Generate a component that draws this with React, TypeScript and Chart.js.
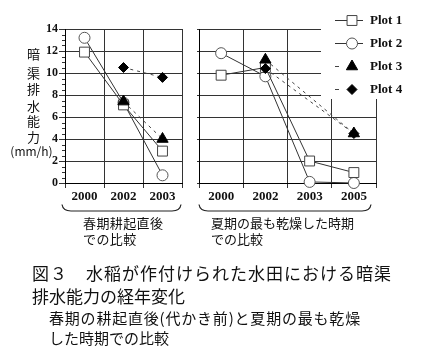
import React, { useEffect, useRef } from 'react';
import { Chart, registerables } from 'chart.js';

Chart.register(...registerables);

// ---- data ----
const springYears = ['2000', '2002', '2003'];
const summerYears = ['2000', '2002', '2003', '2005'];
const seriesNames = ['Plot 1', 'Plot 2', 'Plot 3', 'Plot 4'];

const springPlot1 = [11.9, 7.1, 2.9];
const springPlot2 = [13.2, 7.3, 0.7];
const springPlot3 = [null, 7.4, 4.0];
const springPlot4 = [null, 10.5, 9.6];

const summerPlot1 = [9.8, 10.5, 2.0, 0.95];
const summerPlot2 = [11.8, 9.7, 0.1, 0.0];
const summerPlot3 = [null, 11.2, null, 4.5];
const summerPlot4 = [null, 10.4, null, 4.5];

const yMin = 0;
const yMax = 14;
const yStep = 2;
const yMinorStep = 0.5;

const yTitleChars = ['暗', '渠', '排', '水', '能', '力', '(mm/h)'];
const springLabel = ['春期耕起直後', 'での比較'];
const summerLabel = ['夏期の最も乾燥した時期', 'での比較'];
const captionLines = ['図３　水稲が作付けられた水田における暗渠', '排水能力の経年変化'];
const subCaptionLines = ['春期の耕起直後(代かき前)と夏期の最も乾燥', 'した時期での比較'];

// ---- styles ----
type St = { pointStyle: string; radius: number; fill: string; stroke: string; line: string; dash: number[]; order: number };
const styles: St[] = [
  { pointStyle: 'rect', radius: 7, fill: '#ffffff', stroke: '#444444', line: '#333333', dash: [], order: 1 },
  { pointStyle: 'circle', radius: 5.5, fill: '#ffffff', stroke: '#555555', line: '#333333', dash: [], order: 1 },
  { pointStyle: 'triangle', radius: 6.5, fill: '#000000', stroke: '#000000', line: '#444444', dash: [3, 4], order: 0 },
  { pointStyle: 'rectRot', radius: 5, fill: '#000000', stroke: '#000000', line: '#444444', dash: [3, 4], order: 0 },
];

const serif = '"Liberation Serif", "Times New Roman", serif';
const cjk = '"Noto Sans CJK JP", sans-serif';

function makeDatasets(values: (number | null)[][], span: boolean) {
  return values.map((data, i) => ({
    label: seriesNames[i],
    data,
    borderColor: styles[i].line,
    borderWidth: 1,
    borderDash: styles[i].dash,
    pointStyle: styles[i].pointStyle,
    pointRadius: styles[i].radius,
    pointHoverRadius: styles[i].radius,
    pointBackgroundColor: styles[i].fill,
    pointBorderColor: styles[i].stroke,
    pointBorderWidth: 1,
    fill: false,
    tension: 0,
    spanGaps: span,
    clip: false as const,
    order: styles[i].order,
  }));
}

function drawMarker(ctx: CanvasRenderingContext2D, st: St, x: number, y: number) {
  const r = st.radius;
  ctx.beginPath();
  if (st.pointStyle === 'rect') {
    const s = Math.SQRT1_2 * r;
    ctx.rect(x - s, y - s, 2 * s, 2 * s);
  } else if (st.pointStyle === 'circle') {
    ctx.arc(x, y, r, 0, Math.PI * 2);
  } else if (st.pointStyle === 'triangle') {
    let a = 0;
    ctx.moveTo(x + Math.sin(a) * r, y - Math.cos(a) * r);
    a += (2 * Math.PI) / 3;
    ctx.lineTo(x + Math.sin(a) * r, y - Math.cos(a) * r);
    a += (2 * Math.PI) / 3;
    ctx.lineTo(x + Math.sin(a) * r, y - Math.cos(a) * r);
    ctx.closePath();
  } else {
    ctx.moveTo(x, y - r);
    ctx.lineTo(x + r, y);
    ctx.lineTo(x, y + r);
    ctx.lineTo(x - r, y);
    ctx.closePath();
  }
  ctx.fillStyle = st.fill;
  ctx.fill();
  ctx.strokeStyle = st.stroke;
  ctx.lineWidth = 1;
  ctx.stroke();
}

function bracePlugin(dl: number, dr: number) {
  return {
    id: 'brace',
    afterDraw(chart: any) {
      const { ctx, chartArea } = chart;
      const L = chartArea.left + dl;
      const R = chartArea.right + dr;
      const top = 204.5;
      const bot = 211;
      ctx.save();
      ctx.strokeStyle = '#222';
      ctx.lineWidth = 1.2;
      ctx.beginPath();
      ctx.moveTo(L, top);
      ctx.quadraticCurveTo(L + 1, bot, L + 9, bot);
      ctx.lineTo(R - 9, bot);
      ctx.quadraticCurveTo(R - 1, bot, R, top);
      ctx.stroke();
      ctx.restore();
    },
  };
}

const minorTickPlugin = {
  id: 'minorTicks',
  afterDraw(chart: any) {
    const { ctx, chartArea } = chart;
    const ys = chart.scales.y;
    ctx.save();
    ctx.strokeStyle = '#333';
    ctx.lineWidth = 1;
    for (let v = yMin; v <= yMax + 1e-9; v += yMinorStep) {
      if (Math.abs(v / yStep - Math.round(v / yStep)) < 1e-6) continue;
      const py = Math.round(ys.getPixelForValue(v)) + 0.5;
      ctx.beginPath();
      ctx.moveTo(chartArea.left - 3, py);
      ctx.lineTo(chartArea.left, py);
      ctx.stroke();
    }
    ctx.restore();
  },
};

const legendPlugin = {
  id: 'boxLegend',
  afterDraw(chart: any) {
    const ctx: CanvasRenderingContext2D = chart.ctx;
    ctx.save();
    ctx.fillStyle = '#ffffff';
    ctx.fillRect(131, 0, 101, 99);
    seriesNames.forEach((name, i) => {
      const y = 20.5 + i * 23;
      const st = styles[i];
      ctx.strokeStyle = st.line;
      ctx.lineWidth = 1;
      ctx.beginPath();
      if (st.dash.length) {
        ctx.moveTo(145, y);
        ctx.lineTo(149, y);
      } else {
        ctx.moveTo(145, y);
        ctx.lineTo(173, y);
      }
      ctx.stroke();
      drawMarker(ctx, st, 162, y);
      ctx.fillStyle = '#111';
      ctx.font = `bold 13px ${serif}`;
      ctx.textBaseline = 'middle';
      ctx.textAlign = 'left';
      ctx.fillText(name, 180, y + 0.5);
    });
    ctx.restore();
  },
};

function baseOptions(showYLabels: boolean, yWidth: number, rightPad: number) {
  return {
    responsive: false,
    maintainAspectRatio: false,
    animation: false as const,
    devicePixelRatio: 1,
    layout: { padding: { top: 29, right: rightPad, bottom: 0, left: 0 } },
    plugins: { legend: { display: false }, tooltip: { enabled: false } },
    events: [] as any[],
    scales: {
      x: {
        type: 'category' as const,
        offset: true,
        grid: { offset: true, color: '#333', lineWidth: 1, tickLength: 5, tickColor: '#333' },
        border: { color: '#000', width: 1 },
        ticks: {
          font: { family: serif, size: 13, weight: 'bold' as const },
          color: '#111',
          padding: 1,
          maxRotation: 0,
          autoSkip: false,
        },
        afterFit: (s: any) => {
          s.height = 32;
        },
      },
      y: {
        type: 'linear' as const,
        min: yMin,
        max: yMax,
        grid: { color: '#333', lineWidth: 1, tickLength: showYLabels ? 6 : 2, tickColor: '#333' },
        border: { color: '#000', width: 1 },
        ticks: {
          display: showYLabels,
          stepSize: yStep,
          font: { family: serif, size: 12, weight: 'bold' as const },
          color: '#111',
          padding: 1,
        },
        afterFit: (s: any) => {
          s.width = yWidth;
        },
      },
    },
  };
}

function LeftChart() {
  const ref = useRef<HTMLCanvasElement>(null);
  useEffect(() => {
    const chart = new Chart(ref.current as HTMLCanvasElement, {
      type: 'line',
      data: {
        labels: springYears,
        datasets: makeDatasets([springPlot1, springPlot2, springPlot3, springPlot4], false) as any,
      },
      options: baseOptions(true, 65, 2) as any,
      plugins: [minorTickPlugin, bracePlugin(-3, -1)],
    });
    return () => chart.destroy();
  }, []);
  return (
    <canvas
      ref={ref}
      width={190}
      height={215}
      style={{ position: 'absolute', left: 0, top: 0, width: 190, height: 215 }}
    />
  );
}

function RightChart() {
  const ref = useRef<HTMLCanvasElement>(null);
  useEffect(() => {
    const chart = new Chart(ref.current as HTMLCanvasElement, {
      type: 'line',
      data: {
        labels: summerYears,
        datasets: makeDatasets([summerPlot1, summerPlot2, summerPlot3, summerPlot4], true) as any,
      },
      options: baseOptions(false, 9, 46) as any,
      plugins: [legendPlugin, bracePlugin(0, -5)],
    });
    return () => chart.destroy();
  }, []);
  return (
    <canvas
      ref={ref}
      width={232}
      height={215}
      style={{ position: 'absolute', left: 190, top: 0, width: 232, height: 215 }}
    />
  );
}

const titleYs = [52.7, 72.3, 88.3, 104.7, 120, 135.5, 151.3];

function Txt(props: { x: number; y: number; size: number; text: string; center?: boolean; ls?: number }) {
  const { x, y, size, text, center, ls } = props;
  return (
    <div
      style={{
        position: 'absolute',
        left: x,
        top: y,
        transform: center ? 'translate(-50%, -50%)' : 'translateY(-50%)',
        fontFamily: cjk,
        fontSize: size,
        lineHeight: 1,
        whiteSpace: 'nowrap',
        color: '#111',
        letterSpacing: ls ? `${ls}px` : undefined,
      }}
    >
      {text}
    </div>
  );
}

export default function App() {
  return (
    <div
      style={{
        position: 'absolute',
        left: 0,
        top: 0,
        width: 422,
        height: 363,
        overflow: 'hidden',
        background: '#ffffff',
      }}
    >
      <LeftChart />
      <RightChart />
      {yTitleChars.map((c, i) => {
        const last = i === yTitleChars.length - 1;
        return <Txt key={i} x={last ? 31.5 : 33.5} y={titleYs[i]} size={last ? 12 : 13} text={c} center />;
      })}
      <Txt x={83} y={222} size={13} text={springLabel[0]} ls={0.4} />
      <Txt x={83} y={238} size={13} text={springLabel[1]} ls={0.4} />
      <Txt x={211} y={222} size={13} text={summerLabel[0]} />
      <Txt x={211} y={238} size={13} text={summerLabel[1]} />
      <Txt x={32} y={272} size={17} text={captionLines[0]} ls={1} />
      <Txt x={32} y={295} size={17} text={captionLines[1]} />
      <Txt x={49} y={317} size={15} text={subCaptionLines[0]} ls={0.8} />
      <Txt x={49} y={337} size={15} text={subCaptionLines[1]} />
    </div>
  );
}
